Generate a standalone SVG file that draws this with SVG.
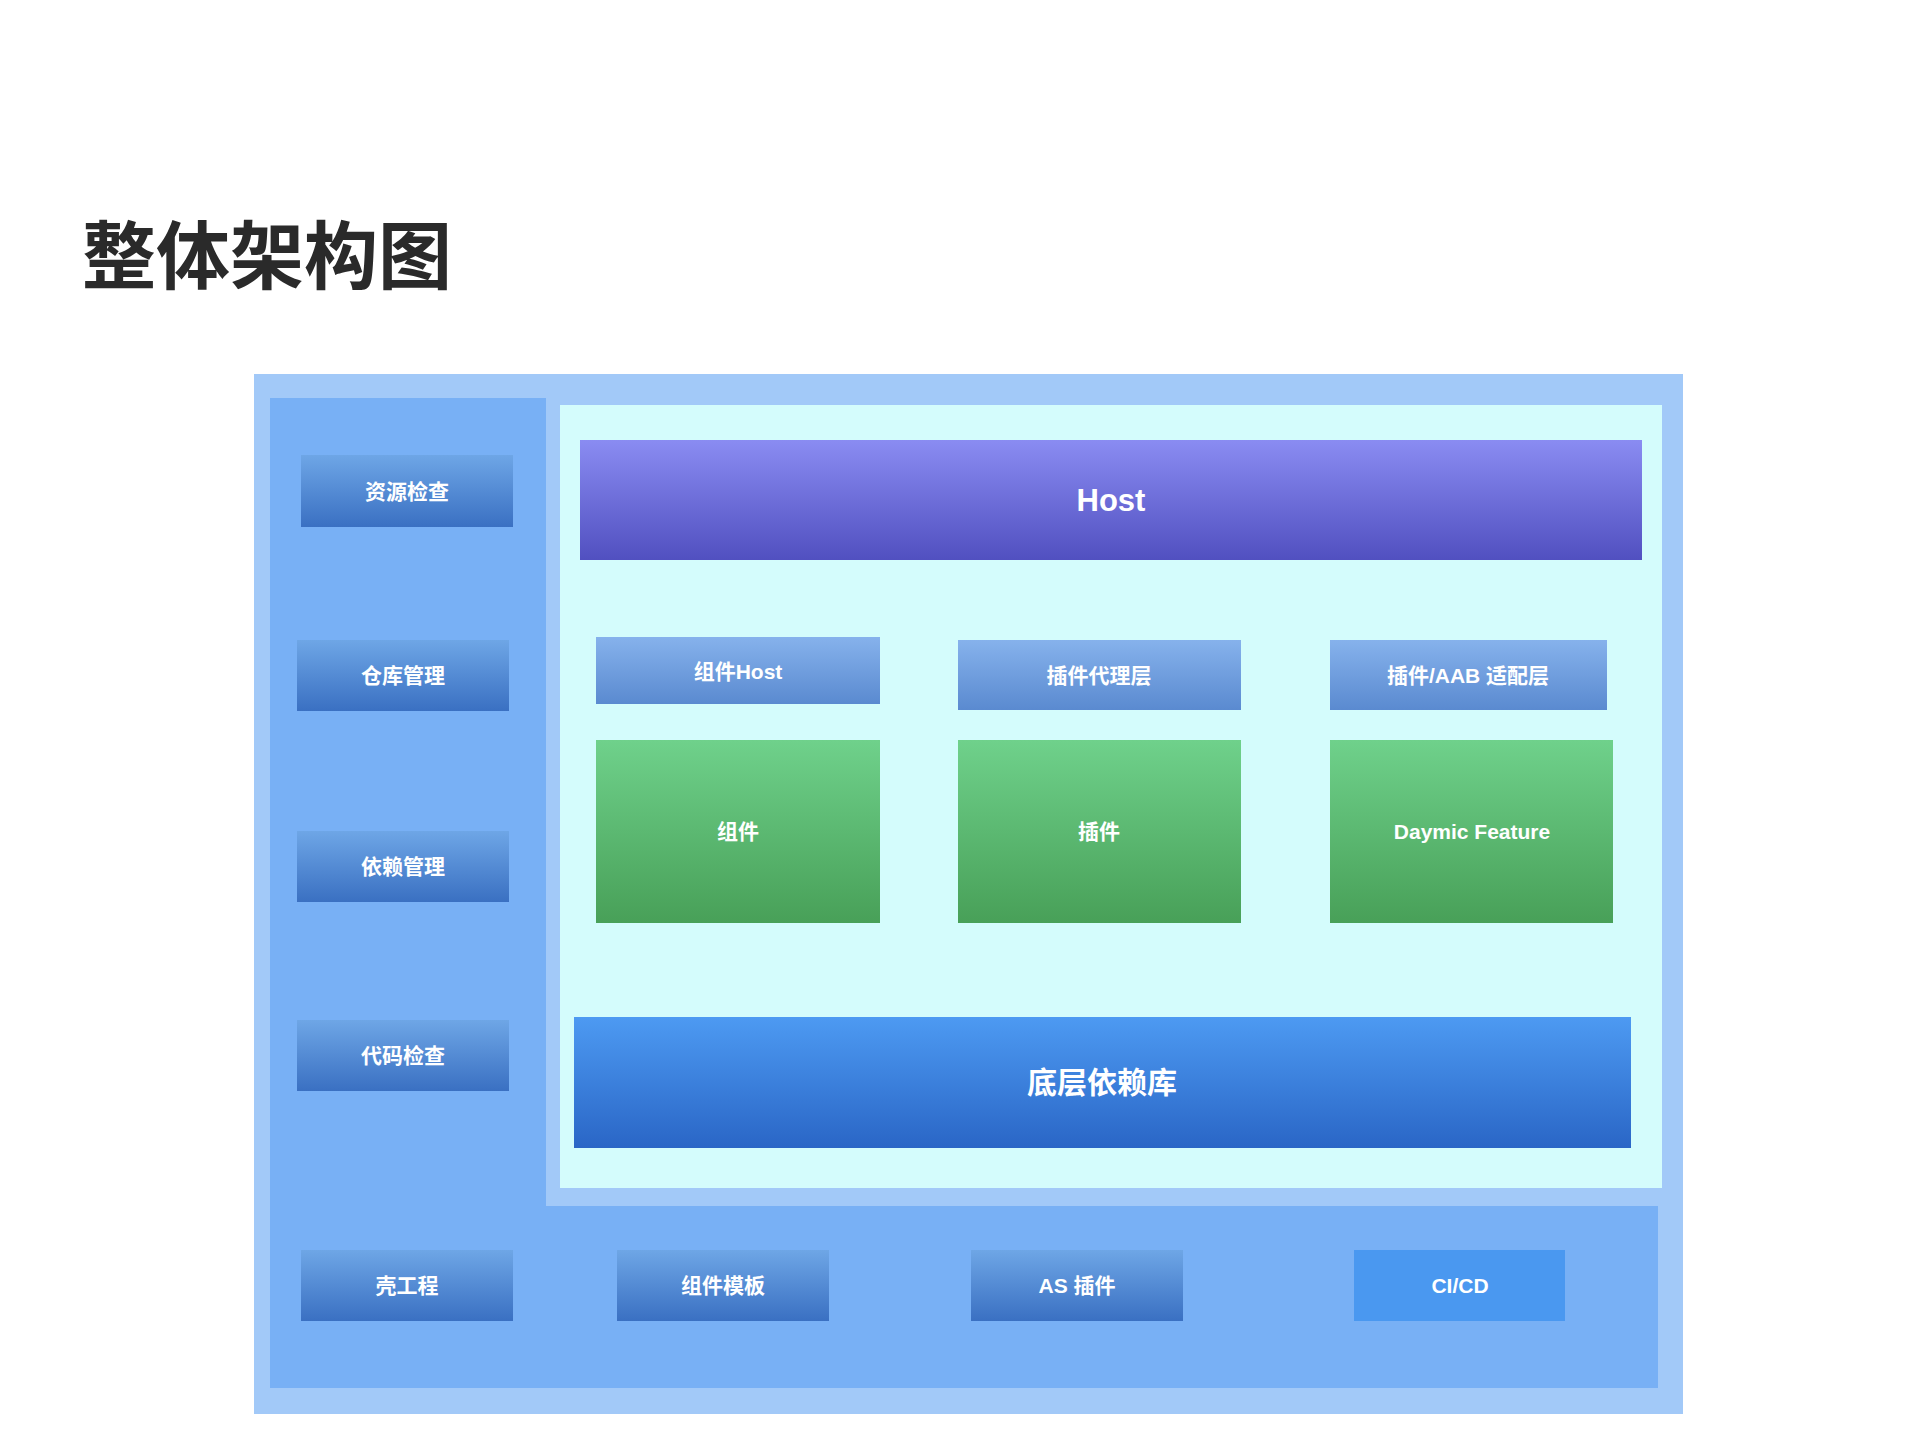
<svg xmlns="http://www.w3.org/2000/svg" width="1919" height="1439" viewBox="0 0 1919 1439">
<defs>
<linearGradient id="gHost" x1="0" y1="0" x2="0" y2="1"><stop offset="0" stop-color="#8a8cf2"/><stop offset="1" stop-color="#5150c0"/></linearGradient>
<linearGradient id="gHead" x1="0" y1="0" x2="0" y2="1"><stop offset="0" stop-color="#86b2ec"/><stop offset="1" stop-color="#5a8ad0"/></linearGradient>
<linearGradient id="gGreen" x1="0" y1="0" x2="0" y2="1"><stop offset="0" stop-color="#6fd18b"/><stop offset="1" stop-color="#48a058"/></linearGradient>
<linearGradient id="gLib" x1="0" y1="0" x2="0" y2="1"><stop offset="0" stop-color="#4d9af2"/><stop offset="1" stop-color="#2a66c6"/></linearGradient>
<linearGradient id="gSide" x1="0" y1="0" x2="0" y2="1"><stop offset="0" stop-color="#6ea6e6"/><stop offset="1" stop-color="#3a70c2"/></linearGradient>
</defs>
<style>
.t{font-family:"Liberation Sans","Noto Sans CJK SC",sans-serif;fill:#fff;text-anchor:middle;dominant-baseline:central;font-weight:bold}
.s{font-size:21px}
</style>
<rect width="1919" height="1439" fill="#fff"/>
<text x="82" y="283" font-family="'Noto Sans CJK SC',sans-serif" font-weight="bold" font-size="74" fill="#2a2a2a">整体架构图</text>
<g id="frame">
<rect x="254" y="374" width="1429" height="1040" fill="#a2c9f8"/>
<path d="M270 398H546V1206H1658V1388H270Z" fill="#78b0f5"/>
<rect x="560" y="405" width="1102" height="783" fill="#d4fcfc"/>
</g>
<g id="host"><rect x="580" y="440" width="1062" height="120" fill="url(#gHost)"/><text class="t" x="1111" y="500" font-size="31" font-weight="normal">Host</text></g>
<g id="h1"><rect x="596" y="637" width="284" height="67" fill="url(#gHead)"/><text class="t s" x="738" y="671">组件Host</text></g>
<g id="h2"><rect x="958" y="640" width="283" height="70" fill="url(#gHead)"/><text class="t s" x="1099" y="675">插件代理层</text></g>
<g id="h3"><rect x="1330" y="640" width="277" height="70" fill="url(#gHead)"/><text class="t s" x="1468" y="675">插件/AAB 适配层</text></g>
<g id="g1"><rect x="596" y="740" width="284" height="183" fill="url(#gGreen)"/><text class="t s" x="738" y="831">组件</text></g>
<g id="g2"><rect x="958" y="740" width="283" height="183" fill="url(#gGreen)"/><text class="t s" x="1099" y="831">插件</text></g>
<g id="g3"><rect x="1330" y="740" width="283" height="183" fill="url(#gGreen)"/><text class="t s" x="1472" y="831">Daymic Feature</text></g>
<g id="lib"><rect x="574" y="1017" width="1057" height="131" fill="url(#gLib)"/><text class="t" x="1102" y="1082" font-size="30">底层依赖库</text></g>
<g id="l1"><rect x="301" y="455" width="212" height="72" fill="url(#gSide)"/><text class="t s" x="407" y="491">资源检查</text></g>
<g id="l2"><rect x="297" y="640" width="212" height="71" fill="url(#gSide)"/><text class="t s" x="403" y="675">仓库管理</text></g>
<g id="l3"><rect x="297" y="831" width="212" height="71" fill="url(#gSide)"/><text class="t s" x="403" y="866">依赖管理</text></g>
<g id="l4"><rect x="297" y="1020" width="212" height="71" fill="url(#gSide)"/><text class="t s" x="403" y="1055">代码检查</text></g>
<g id="b1"><rect x="301" y="1250" width="212" height="71" fill="url(#gSide)"/><text class="t s" x="407" y="1285">壳工程</text></g>
<g id="b2"><rect x="617" y="1250" width="212" height="71" fill="url(#gSide)"/><text class="t s" x="723" y="1285">组件模板</text></g>
<g id="b3"><rect x="971" y="1250" width="212" height="71" fill="url(#gSide)"/><text class="t s" x="1077" y="1285">AS 插件</text></g>
<g id="b4"><rect x="1354" y="1250" width="211" height="71" fill="#4a98f0"/><text class="t s" x="1460" y="1285" font-weight="normal">CI/CD</text></g>
<g id="connectors"/>
</svg>
